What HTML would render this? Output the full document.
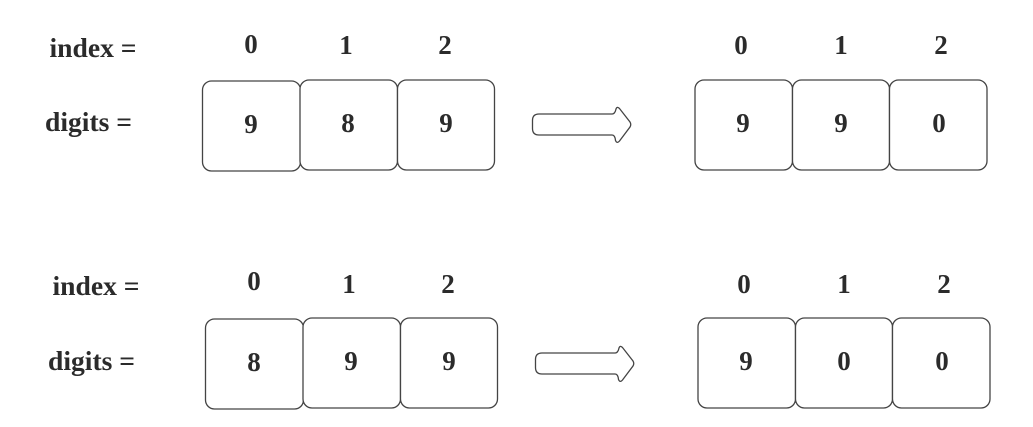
<!DOCTYPE html>
<html>
<head>
<meta charset="utf-8">
<style>
html,body{margin:0;padding:0;background:#fff;width:1033px;height:427px;overflow:hidden}
svg{display:block}
text{font-family:"Liberation Serif",serif;font-weight:700;font-size:27px;fill:#2b2b2b}
.n{text-anchor:middle}
.l{font-size:27.6px}
rect,path{fill:#fff;stroke:#444;stroke-width:1.3}
</style>
</head>
<body>
<svg width="1033" height="427" viewBox="0 0 1033 427" xmlns="http://www.w3.org/2000/svg">
<g>
<text class="l" x="49.500" y="57">index =</text>
<text class="l" x="45" y="131">digits =</text>
<text class="n" x="251" y="53">0</text>
<text class="n" x="346" y="54">1</text>
<text class="n" x="445" y="54">2</text>
<rect x="202.500" y="81" width="98" height="90" rx="9"/>
<rect x="300" y="80" width="97.500" height="90" rx="9"/>
<rect x="397.500" y="80" width="97" height="90" rx="9"/>
<text class="n" x="251" y="133">9</text>
<text class="n" x="348" y="132">8</text>
<text class="n" x="446" y="132">9</text>
</g>
<path d="M539 114H612Q615 114 616 109Q617 106 619.500 108.500L630 122Q631.500 124.500 630 127L619.500 141Q617 144 615.500 140.500Q615 135 612 135H539Q532.500 135 532.500 128.500V120.500Q532.500 114 539 114Z"/>
<g>
<text class="n" x="741" y="54">0</text>
<text class="n" x="841" y="54">1</text>
<text class="n" x="941" y="54">2</text>
<rect x="695" y="80" width="97.500" height="90" rx="9"/>
<rect x="792.500" y="80" width="97" height="90" rx="9"/>
<rect x="889.500" y="80" width="97.500" height="90" rx="9"/>
<text class="n" x="743" y="132">9</text>
<text class="n" x="841" y="132">9</text>
<text class="n" x="939" y="132">0</text>
</g>
<g>
<text class="l" x="52.500" y="295">index =</text>
<text class="l" x="48" y="370">digits =</text>
<text class="n" x="254" y="290">0</text>
<text class="n" x="349" y="293">1</text>
<text class="n" x="448" y="293">2</text>
<rect x="205.500" y="319" width="98" height="90" rx="9"/>
<rect x="303" y="318" width="97.500" height="90" rx="9"/>
<rect x="400.500" y="318" width="97" height="90" rx="9"/>
<text class="n" x="254" y="371">8</text>
<text class="n" x="351" y="370">9</text>
<text class="n" x="449" y="370">9</text>
</g>
<path transform="translate(3 239)" d="M539 114H612Q615 114 616 109Q617 106 619.500 108.500L630 122Q631.500 124.500 630 127L619.500 141Q617 144 615.500 140.500Q615 135 612 135H539Q532.500 135 532.500 128.500V120.500Q532.500 114 539 114Z"/>
<g>
<text class="n" x="744" y="293">0</text>
<text class="n" x="844" y="293">1</text>
<text class="n" x="944" y="293">2</text>
<rect x="698" y="318" width="97.500" height="90" rx="9"/>
<rect x="795.500" y="318" width="97" height="90" rx="9"/>
<rect x="892.500" y="318" width="97.500" height="90" rx="9"/>
<text class="n" x="746" y="370">9</text>
<text class="n" x="844" y="370">0</text>
<text class="n" x="942" y="370">0</text>
</g>
</svg>
</body>
</html>
